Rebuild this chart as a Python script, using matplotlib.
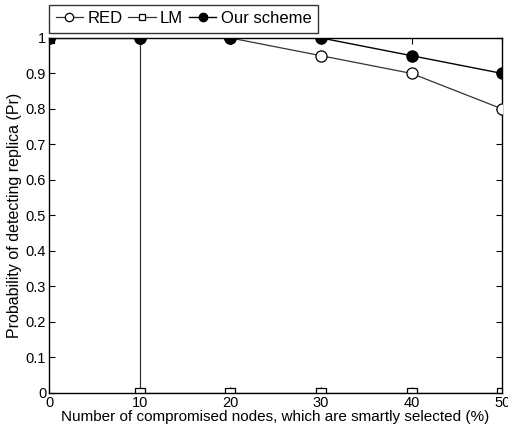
import numpy as np
import matplotlib
matplotlib.use('Agg')
import matplotlib.pyplot as plt

plt.rcParams['font.family'] = ['Liberation Sans', 'DejaVu Sans']

# Data
x = [0, 10, 20, 30, 40, 50]
red = [1, 1, 1, 0.95, 0.9, 0.8]
lm_x = [0, 10, 10, 20, 30, 40, 50]
lm_y = [1, 1, 0, 0, 0, 0, 0]
ours = [1, 1, 1, 1, 0.95, 0.9]

fig = plt.figure(figsize=(5.08, 4.33), dpi=100)
ax = fig.add_axes([0.0965, 0.0924, 0.892, 0.82])

line_c = '#333333'
ax.plot(x, red, color=line_c, lw=0.9, marker='o', ms=8, mfc='white',
        mec='black', mew=0.9, label='RED', zorder=3)
ax.plot(lm_x, lm_y, color=line_c, lw=0.9, marker='s', ms=6.5, mfc='white',
        mec='black', mew=0.9, markevery=[0, 2, 3, 4, 5, 6], label='LM', zorder=2)
ax.plot(x, ours, color='black', lw=1.0, marker='o', ms=8, mfc='black',
        mec='black', label='Our scheme', zorder=4)

ax.set_xlim(0, 50)
ax.set_ylim(0, 1)
ax.set_xticks(np.arange(0, 51, 10))
ax.set_yticks(np.arange(0, 1.01, 0.1))
ax.set_yticklabels(['0', '0.1', '0.2', '0.3', '0.4', '0.5', '0.6', '0.7', '0.8', '0.9', '1'])
ax.tick_params(direction='in', top=True, right=True, labelsize=10.5, length=4, pad=2)
for s in ax.spines.values():
    s.set_linewidth(1.0)

ax.set_xlabel('Number of compromised nodes, which are smartly selected (%)', fontsize=11, labelpad=0)
ax.set_ylabel('Probability of detecting replica (Pr)', fontsize=11.5, labelpad=3)

leg = ax.legend(loc='lower left', bbox_to_anchor=(0, 1.014), ncol=3, fontsize=12,
                frameon=True, fancybox=False, edgecolor='black', borderpad=0.4,
                handlelength=1.65, handletextpad=0.25, columnspacing=0.35,
                borderaxespad=0, markerscale=0.75)
leg.get_frame().set_linewidth(1.0)
leg.set_zorder(5)

fig.savefig('out.png', dpi=100)
